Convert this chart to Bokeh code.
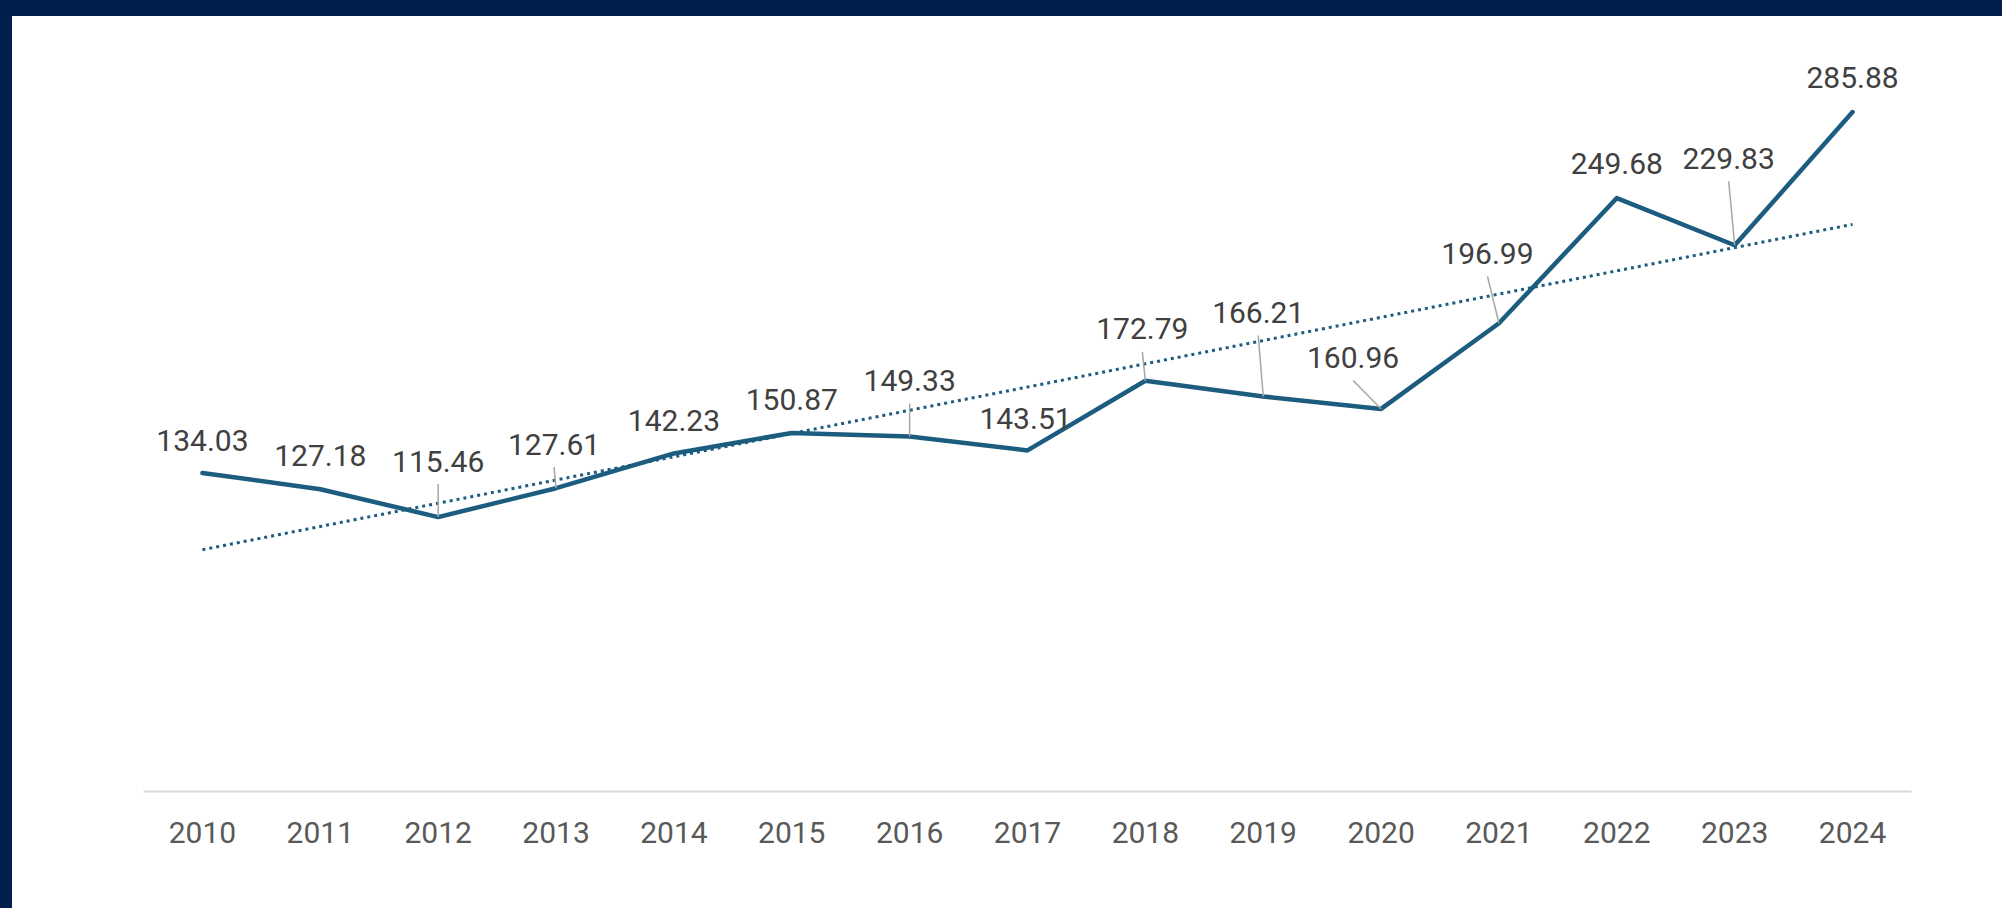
import numpy as np
from bokeh.plotting import figure
from bokeh.models import Range1d, FixedTicker, ColumnDataSource, Div
from bokeh.layouts import column, row
from bokeh.core.properties import value
from bokeh.embed import file_html
from bokeh.resources import INLINE

# ---- data ----
years = [2010, 2011, 2012, 2013, 2014, 2015, 2016, 2017, 2018, 2019, 2020, 2021, 2022, 2023, 2024]
values = [134.03, 127.18, 115.46, 127.61, 142.23, 150.87, 149.33, 143.51,
          172.79, 166.21, 160.96, 196.99, 249.68, 229.83, 285.88]
tick_labels = [str(y) for y in years]
value_labels = ["%.2f" % v for v in values]

# ---- label placement (screen pixels: dx right, dy up) ----
label_dx = [0, 0, 0, -2, 0, 0, 0, -2, -3, -5, -28, -11.5, 0, -6, 0]
label_dy = [32.5, 34, 56, 44, 33, 33.5, 56, 32, 52, 84, 51.5, 70, 34.6, 87, 34.6]
leader = [False, False, True, True, False, False, True, False, True, True, True, True, False, True, False]

# ---- geometry ----
FIG_W, FIG_H = 1990, 880
B_LEFT, B_RIGHT, B_TOP, B_BOTTOM = 131, 91, 8, 105
frame_w = FIG_W - B_LEFT - B_RIGHT
frame_h = FIG_H - B_TOP - B_BOTTOM
x0, x1 = years[0] - 0.5, years[-1] + 0.5
y0, y1 = 0, 322.7
px_x = frame_w / (x1 - x0)
px_y = frame_h / (y1 - y0)

NAVY = "#00204b"
LINE = "#1b5c7f"

p = figure(width=FIG_W, height=FIG_H, output_backend="svg", toolbar_location=None,
           x_range=Range1d(x0, x1), y_range=Range1d(y0, y1),
           min_border_left=B_LEFT, min_border_right=B_RIGHT,
           min_border_top=B_TOP, min_border_bottom=B_BOTTOM, margin=0)
p.outline_line_color = None
p.background_fill_color = "white"
p.border_fill_color = "white"
p.xgrid.visible = False
p.ygrid.visible = False
p.yaxis.visible = False

xa = p.xaxis[0]
xa.ticker = FixedTicker(ticks=years)
xa.major_label_overrides = {y: t for y, t in zip(years, tick_labels)}
xa.axis_line_color = "#d9d9d9"
xa.axis_line_width = 2
xa.major_tick_line_color = None
xa.minor_tick_line_color = None
xa.major_label_text_font = "Roboto"
xa.major_label_text_font_size = "30px"
xa.major_label_text_color = "#595959"
xa.major_label_standoff = 24

# trend line (least squares fit of the data)
coef = np.polyfit(years, values, 1)
trend = np.polyval(coef, years)
p.line(years, trend, line_color=LINE, line_width=3, line_dash="3 4")

# main line
p.line(years, values, line_color=LINE, line_width=4.5, line_join="round", line_cap="round")

# leader lines
lx0, ly0, lx1, ly1 = [], [], [], []
for yr, v, dx, dy, ld in zip(years, values, label_dx, label_dy, leader):
    if ld:
        lx0.append(yr + dx / px_x)
        ly0.append(v + (dy - 23) / px_y)
        lx1.append(yr)
        ly1.append(v)
p.segment(lx0, ly0, lx1, ly1, line_color="#a6a6a6", line_width=1.5)

# data labels
src = ColumnDataSource(dict(x=years, y=values, t=value_labels,
                            xo=label_dx, yo=[-d for d in label_dy]))
p.text(x="x", y="y", text="t", source=src, x_offset="xo", y_offset="yo",
       text_align="center", text_baseline="middle",
       text_font=value("Roboto"), text_font_size="30px", text_color="#404040")

top_bar = Div(text="", width=12 + FIG_W, height=16, margin=0,
              styles={"background-color": NAVY})
left_bar = Div(text="", width=12, height=892, margin=0,
               styles={"background-color": NAVY})
root = column(top_bar, row(left_bar, p, spacing=0, margin=0), spacing=0, margin=0)

open("out.html", "w").write(file_html(root, INLINE))
